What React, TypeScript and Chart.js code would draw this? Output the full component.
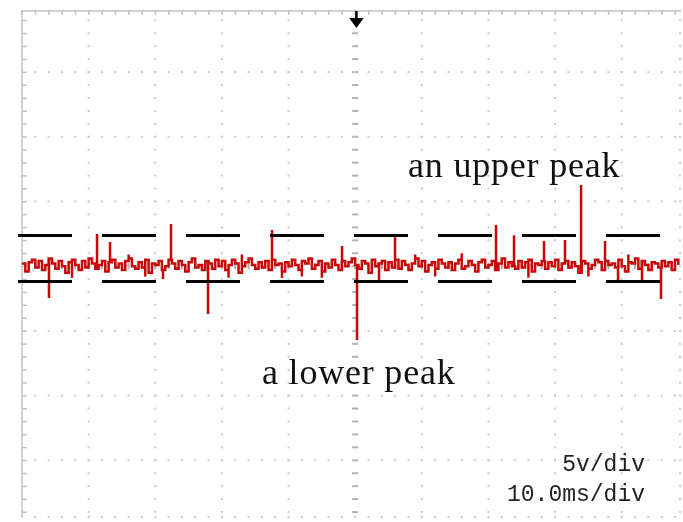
import React, { useEffect, useRef } from "react";
import { Chart, registerables } from "chart.js";

Chart.register(...registerables);

// Time axis in ms (10 ms/div), voltage axis in V (5 V/div)
const MS_PER_DIV = 10;
const V_PER_DIV = 5;
const X_MIN = 0;
const X_MAX = 98.9;
const Y_MIN = -19.46;
const Y_MAX = 19.8;

// Background noise of the trace, one sample every 0.5 ms (V)
const NOISE_STEP_MS = 0.5;
const noiseValues = [
  0.2, -0.4, 0.3, 0.5, -0.1, 0.4, -0.3, 0.1, 0.6, 0.2,
  -0.2, 0.4, 0.0, -0.5, 0.3, 0.5, 0.1, -0.3, 0.4, -0.1,
  0.6, 0.2, -0.2, 0.1, 0.4, -0.4, 0.3, 0.5, -0.1, 0.2,
  -0.3, 0.4, 0.6, 0.0, -0.2, 0.3, -0.1, 0.5, -0.5, 0.2,
  0.1, 0.4, -0.3, 0.0, 0.5, 0.2, -0.2, 0.4, 0.1, -0.4,
  0.3, 0.6, -0.1, 0.1, -0.3, 0.4, 0.2, -0.2, 0.5, 0.0,
  0.4, -0.3, 0.1, 0.5, 0.2, -0.5, 0.0, 0.3, 0.6, 0.1,
  -0.2, 0.3, -0.1, 0.4, -0.3, 0.5, 0.1, 0.2, -0.4, 0.3,
  0.0, 0.5, 0.1, -0.3, 0.4, 0.2, 0.6, -0.2, 0.1, 0.4,
  -0.4, 0.2, -0.1, 0.5, 0.1, -0.3, 0.4, 0.0, 0.3, 0.6,
  0.1, -0.2, 0.4, 0.2, -0.5, 0.5, 0.0, 0.2, 0.4, -0.3,
  0.3, -0.1, 0.5, -0.2, 0.4, 0.1, -0.3, 0.2, 0.6, 0.0,
  0.4, -0.4, 0.1, 0.3, -0.2, 0.5, 0.2, -0.1, 0.3, -0.3,
  0.2, 0.5, -0.2, 0.0, 0.4, 0.1, -0.4, 0.3, 0.5, -0.1,
  0.1, 0.4, -0.3, 0.2, 0.6, -0.1, 0.3, 0.0, -0.2, 0.4,
  -0.1, 0.3, 0.5, -0.4, 0.2, 0.1, 0.4, -0.2, 0.3, 0.0,
  0.5, -0.3, 0.2, 0.4, -0.1, 0.3, 0.0, -0.5, 0.4, 0.2,
  -0.2, 0.1, 0.5, 0.3, -0.3, 0.4, 0.1, 0.2, -0.1, 0.5,
  0.0, -0.4, 0.3, 0.2, 0.6, -0.2, 0.4, 0.1, -0.3, 0.3,
  0.2, -0.1, 0.4, 0.0, 0.3, -0.3, 0.5, 0.1,
];

// Spikes: time (ms) and peak value (V)
const spikeTimes = [
  4.05, 7.5, 11.26, 13.21, 16.0, 18.5, 21.16, 22.36, 27.92, 31.0,
  33.0, 37.52, 39.02, 42.0, 45.0, 48.03, 50.28, 53.58, 55.98, 59.0,
  62.0, 66.0, 71.14, 73.84, 76.0, 78.34, 81.49, 83.9, 85.0, 87.5,
  89.45, 91.0, 93.05, 95.9,
];
const spikeValues = [
  -2.46, -0.9, 2.49, 1.87, 0.9, -0.8, -0.99, 3.26, -3.69, -0.9,
  0.9, 2.8, -0.91, -0.8, -0.9, 1.56, -5.7, -1.07, 2.34, 0.9,
  -0.8, 1.0, 3.18, 2.4, -0.9, 1.95, 2.02, 6.28, -0.8, 1.95,
  -1.07, 0.9, -1.07, -2.53,
];

// Threshold (dashed) levels
const upperLevel = 2.37;
const lowerLevel = -1.18;
const levelStartMs = -0.6;
const levelEndMs = 96.05;

// Annotation texts
const upperLabel = "an upper peak";
const lowerLabel = "a lower peak";
const voltDivLabel = "5v/div";
const timeDivLabel = "10.0ms/div";

function buildTrace() {
  const noisePts = noiseValues.map((v, i) => ({ x: +(i * NOISE_STEP_MS).toFixed(2), y: v }));
  const out: { x: number; y: number }[] = [];
  let si = 0;
  for (let i = 0; i < noisePts.length; i++) {
    const p = noisePts[i];
    while (si < spikeTimes.length && spikeTimes[si] < p.x) {
      const base = i > 0 ? noisePts[i - 1].y : p.y;
      out.push({ x: spikeTimes[si], y: base });
      out.push({ x: spikeTimes[si], y: spikeValues[si] });
      out.push({ x: spikeTimes[si], y: base });
      si++;
    }
    out.push(p);
  }
  return out;
}

const scopeGrid = {
  id: "scopeGrid",
  beforeDatasetsDraw(chart: any) {
    const { ctx, chartArea: a, scales } = chart;
    const xs = scales.x;
    const ys = scales.y;
    const minorX = MS_PER_DIV / 5;
    const minorY = V_PER_DIV / 5;
    ctx.save();

    const minorXs: number[] = [];
    for (let t = 0; t <= X_MAX + 0.001; t += minorX) minorXs.push(xs.getPixelForValue(t));
    const minorYs: number[] = [];
    for (let v = Math.ceil(Y_MIN); v <= Y_MAX; v += minorY) minorYs.push(ys.getPixelForValue(v));

    // columns
    const cols: number[] = [];
    for (let t = MS_PER_DIV; t < X_MAX; t += MS_PER_DIV) cols.push(xs.getPixelForValue(t));
    cols.push(a.right - 1);
    const centerX = xs.getPixelForValue(5 * MS_PER_DIV);
    for (const cx of cols) {
      const isCenter = Math.abs(cx - centerX) < 0.5;
      ctx.fillStyle = isCenter ? "#b0b0b0" : "#cacaca";
      for (const py of minorYs) {
        if (py < a.top + 3) continue;
        if (isCenter) ctx.fillRect(cx - 3, py - 1, 6, 2);
        else ctx.fillRect(cx - 1, py - 1, 2, 2);
      }
    }

    // rows
    const rows: number[] = [];
    for (let v = -3 * V_PER_DIV; v <= 3 * V_PER_DIV; v += V_PER_DIV) rows.push(ys.getPixelForValue(v));
    rows.push(a.bottom - 1);
    const centerY = ys.getPixelForValue(0);
    for (const ry of rows) {
      const isCenter = Math.abs(ry - centerY) < 0.5;
      ctx.fillStyle = isCenter ? "#b0b0b0" : "#cacaca";
      for (const px of minorXs) {
        if (px < a.left + 3) continue;
        if (isCenter) ctx.fillRect(px - 1, ry - 3, 2, 6);
        else ctx.fillRect(px - 1, ry - 1, 2, 2);
      }
    }

    // frame: top and left borders with ticks
    ctx.fillStyle = "#d2d2d2";
    ctx.fillRect(a.left, a.top, a.right - a.left, 2);
    ctx.fillRect(a.left - 1, a.top, 2, a.bottom - a.top);
    ctx.fillStyle = "#c2c2c2";
    for (const px of minorXs) ctx.fillRect(px - 0.5, a.top, 1.5, 5);
    for (const py of minorYs) ctx.fillRect(a.left, py - 0.5, 5, 1.5);

    ctx.restore();
  },
  afterDraw(chart: any) {
    const { ctx, chartArea: a, scales } = chart;
    const cx = scales.x.getPixelForValue(5 * MS_PER_DIV) + 1;
    ctx.save();
    ctx.fillStyle = "#000";
    ctx.fillRect(cx - 1, a.top + 1, 2.5, 9);
    ctx.beginPath();
    ctx.moveTo(cx - 7, a.top + 8);
    ctx.lineTo(cx + 7.5, a.top + 8);
    ctx.lineTo(cx + 0.25, a.top + 18);
    ctx.closePath();
    ctx.fill();
    ctx.restore();
  },
};

export default function App() {
  const canvasRef = useRef<HTMLCanvasElement | null>(null);

  useEffect(() => {
    if (!canvasRef.current) return;
    const trace = buildTrace();
    const levelLine = (v: number) => [
      { x: levelStartMs, y: v },
      { x: levelEndMs, y: v },
    ];
    const chart = new Chart(canvasRef.current, {
      type: "line",
      data: {
        datasets: [
          {
            label: "upper level",
            data: levelLine(upperLevel),
            borderColor: "#000",
            borderWidth: 3,
            borderDash: [54, 30],
            pointRadius: 0,
            clip: false as any,
          },
          {
            label: "lower level",
            data: levelLine(lowerLevel),
            borderColor: "#000",
            borderWidth: 3,
            borderDash: [54, 30],
            pointRadius: 0,
            clip: false as any,
          },
          {
            label: "signal",
            data: trace,
            borderColor: "#c80808",
            borderWidth: 2.5,
            pointRadius: 0,
            stepped: true,
          },
        ],
      },
      options: {
        animation: false,
        responsive: true,
        maintainAspectRatio: false,
        layout: { padding: { left: 22, top: 10, right: 2, bottom: 4 } },
        plugins: { legend: { display: false }, tooltip: { enabled: false } },
        scales: {
          x: { type: "linear", min: X_MIN, max: X_MAX, display: false },
          y: { type: "linear", min: Y_MIN, max: Y_MAX, display: false },
        },
      },
      plugins: [scopeGrid],
    });
    return () => chart.destroy();
  }, []);

  const serif: React.CSSProperties = {
    position: "absolute",
    fontFamily: "'Liberation Serif', 'Times New Roman', serif",
    fontSize: 36,
    lineHeight: 1,
    color: "#111",
    whiteSpace: "nowrap",
    letterSpacing: "0.8px",
  };
  const mono: React.CSSProperties = {
    position: "absolute",
    right: 38,
    fontFamily: "'Liberation Mono', 'DejaVu Sans Mono', monospace",
    fontSize: 23,
    lineHeight: 1,
    color: "#222",
    whiteSpace: "nowrap",
    textAlign: "right",
  };

  return (
    <div style={{ position: "absolute", left: 0, top: 0, width: 683, height: 522, background: "#fff" }}>
      <canvas ref={canvasRef} />
      <div style={{ ...serif, left: 408, top: 147 }}>{upperLabel}</div>
      <div style={{ ...serif, left: 262, top: 354 }}>{lowerLabel}</div>
      <div style={{ ...mono, top: 454 }}>{voltDivLabel}</div>
      <div style={{ ...mono, top: 484 }}>{timeDivLabel}</div>
    </div>
  );
}
